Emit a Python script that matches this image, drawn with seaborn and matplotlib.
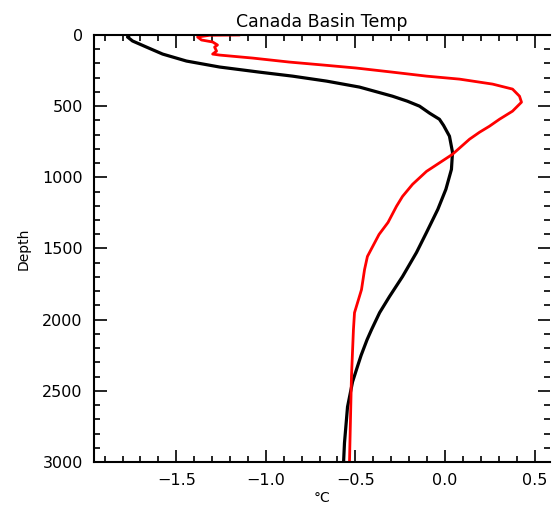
import matplotlib
matplotlib.use("Agg")
import matplotlib.pyplot as plt
import seaborn as sns
import pandas as pd
from matplotlib.ticker import MultipleLocator

sns.set_style("white", {"xtick.direction": "in", "ytick.direction": "in",
                        "axes.edgecolor": "black", "text.color": "black",
                        "axes.labelcolor": "black", "xtick.color": "black",
                        "ytick.color": "black"})
plt.rcParams['font.family'] = ['DejaVu Sans']
plt.rcParams['xtick.direction'] = 'in'
plt.rcParams['ytick.direction'] = 'in'

# Black profile (temperature °C vs depth m)
black_temp = [-1.761, -1.772, -1.744, -1.666, -1.576, -1.443, -1.258, -1.035, -0.851, -0.661,
              -0.477, -0.385, -0.293, -0.210, -0.142, -0.085, -0.031, -0.008, 0.025, 0.042,
              0.036, 0.005, -0.040, -0.103, -0.159, -0.237, -0.310, -0.365, -0.410, -0.435,
              -0.468, -0.489, -0.516, -0.544, -0.561, -0.566]
black_depth = [0, 14, 42, 85, 134, 183, 225, 261, 289, 324,
               366, 398, 430, 465, 500, 550, 592, 635, 711, 824,
               944, 1084, 1225, 1387, 1528, 1697, 1838, 1951, 2070, 2141,
               2250, 2331, 2437, 2613, 2866, 3000]

# Red profile
red_temp = [-1.146, -1.314, -1.381, -1.359, -1.297, -1.270, -1.286, -1.275, -1.297, -1.258,
            -1.074, -0.870, -0.680, -0.496, -0.293, -0.103, 0.081, 0.266, 0.377, 0.416,
            0.427, 0.377, 0.304, 0.248, 0.193, 0.137, 0.042, -0.103, -0.181, -0.237,
            -0.271, -0.318, -0.368, -0.433, -0.449, -0.466, -0.505, -0.511, -0.522, -0.533]
red_depth = [0, 2, 14, 35, 49, 70, 85, 113, 134, 141,
             162, 190, 211, 232, 261, 289, 310, 345, 380, 430,
             472, 535, 592, 641, 683, 732, 838, 958, 1049, 1134,
             1204, 1317, 1401, 1556, 1648, 1789, 1951, 2070, 2401, 3000]

black_df = pd.DataFrame({"temp": black_temp, "depth": black_depth})
red_df = pd.DataFrame({"temp": red_temp, "depth": red_depth})

fig = plt.figure(figsize=(5.52, 5.11), dpi=100)
ax = fig.add_axes([0.170, 0.0959, 0.826, 0.8356])

sns.lineplot(data=black_df, x="temp", y="depth", sort=False, estimator=None,
             color="black", linewidth=2.3, ax=ax)
sns.lineplot(data=red_df, x="temp", y="depth", sort=False, estimator=None,
             color="red", linewidth=2.0, ax=ax)

ax.set_xlim(-1.96, 0.585)
ax.set_ylim(3000, 0)
ax.xaxis.set_major_locator(MultipleLocator(0.5))
ax.xaxis.set_minor_locator(MultipleLocator(0.1))
ax.yaxis.set_major_locator(MultipleLocator(500))
ax.yaxis.set_minor_locator(MultipleLocator(100))
ax.tick_params(which="both", direction="in", top=True, right=True, bottom=True, left=True,
               color="black", labelcolor="black", labelsize=11.5, width=1.2)
ax.tick_params(which="major", length=9, pad=8)
ax.tick_params(which="minor", length=4.5)
for s in ax.spines.values():
    s.set_color("black")
    s.set_linewidth(1.5)
ax.spines["right"].set_visible(False)

ax.set_title("Canada Basin Temp", fontsize=12.5, pad=6, color="black")
ax.set_xlabel("°C", fontsize=10, labelpad=2, color="black")
ax.set_ylabel("Depth", fontsize=10, labelpad=8, color="black")

fig.savefig("out.png", dpi=100, facecolor="white")
